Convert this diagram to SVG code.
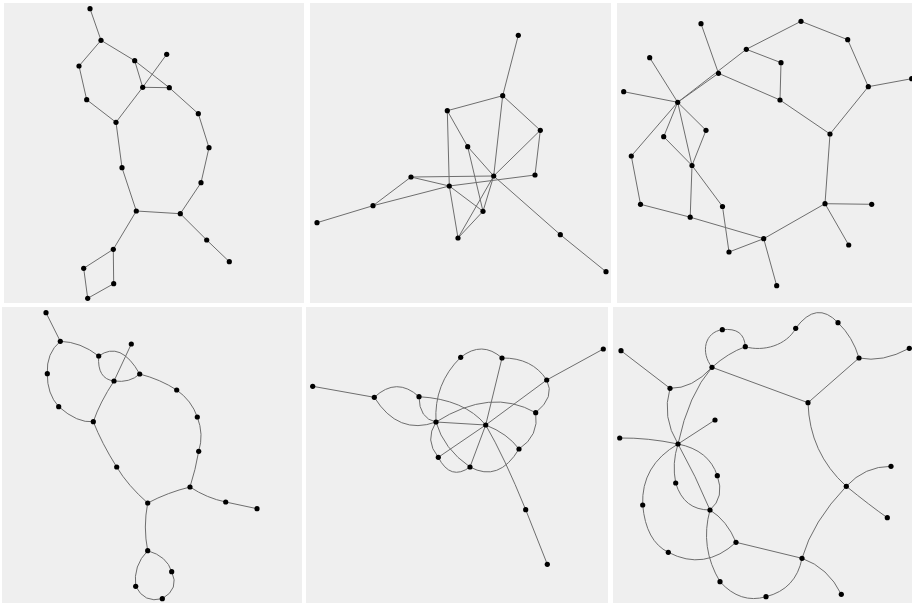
<svg xmlns="http://www.w3.org/2000/svg" width="912" height="603" viewBox="0 0 912 603">
<style>
.panel{fill:#efefef}
.e path{fill:none;stroke:#6e6e6e;stroke-width:1}
.n circle{fill:#000}
</style>
<rect x="0" y="0" width="912" height="603" fill="#fff"/>
<g id="panels">
<rect class="panel" x="4" y="3" width="300" height="300"/>
<rect class="panel" x="310" y="3" width="301" height="300"/>
<rect class="panel" x="617" y="3" width="295" height="300"/>
<rect class="panel" x="2" y="307" width="300" height="296"/>
<rect class="panel" x="306" y="307" width="302" height="296"/>
<rect class="panel" x="613" y="307" width="299" height="296"/>
</g>
<g id="connectors" class="e">
<!-- top-left -->
<path d="M90 8.7L101 40.3L79 66L86.7 99.7L116 122.3"/>
<path d="M101 40.3L134.7 60.7L169.3 87.7"/>
<path d="M134.7 60.7L142.7 87.3"/>
<path d="M166.7 54.3L142.7 87.3"/>
<path d="M142.7 87.3L169.3 87.7"/>
<path d="M116 122.3L142.7 87.3"/>
<path d="M169.3 87.7L198.3 113.7L209 147.7L201 182.7L180.3 213.7L136.3 211L122 167.7L116 122.3"/>
<path d="M180.3 213.7L206.7 240L229.3 261.7"/>
<path d="M136.3 211L113.3 249.3L83.7 268.3L87.7 298.3L113.7 283.7L113.3 249.3"/>
<!-- top-middle -->
<path d="M518.3 35.3L502.7 95.7L447.3 110.7"/>
<path d="M502.7 95.7L540.3 130.3"/>
<path d="M502.7 95.7L493.7 176"/>
<path d="M447.3 110.7L449.3 186"/>
<path d="M447.3 110.7L467.7 146.7L493.7 176L560.3 234.7L606 271.7"/>
<path d="M467.7 146.7L483 211.3"/>
<path d="M540.3 130.3L493.7 176"/>
<path d="M540.3 130.3L535 175"/>
<path d="M411 177L493.7 176"/>
<path d="M449.3 186L535 175"/>
<path d="M411 177L449.3 186"/>
<path d="M411 177L373 205.7L317 222.7"/>
<path d="M373 205.7L449.3 186"/>
<path d="M449.3 186L483 211.3"/>
<path d="M449.3 186L458 238"/>
<path d="M458 238L493.7 176"/>
<path d="M458 238L483 211.3"/>
<path d="M483 211.3L493.7 176"/>
<!-- top-right -->
<path d="M701 23.7L718.5 73.3"/>
<path d="M649.7 57.7L677.7 102.3"/>
<path d="M623.7 91.7L677.7 102.3"/>
<path d="M677.7 102.3L718.5 73.3"/>
<path d="M677.7 102.3L746.3 49.3"/>
<path d="M746.3 49.3L801 21.3L847.7 39.7L868.3 86.7L911.7 78.7"/>
<path d="M868.3 86.7L830 134"/>
<path d="M746.3 49.3L781 62.7L780 100"/>
<path d="M718.5 73.3L780 100L830 134L825 203.7"/>
<path d="M825 203.7L871.7 204.3"/>
<path d="M825 203.7L848.7 245"/>
<path d="M825 203.7L763.7 238.7L776.7 285.7"/>
<path d="M763.7 238.7L729 252L722.5 206.5L692 165.5"/>
<path d="M677.7 102.3L706 130.3L692 165.5"/>
<path d="M677.7 102.3L663.7 136.7L692 165.5"/>
<path d="M677.7 102.3L692 165.5"/>
<path d="M677.7 102.3L631.3 156L640.5 204.3L690.2 217.2L763.7 238.7"/>
<path d="M690.2 217.2L692 165.5"/>
<!-- bottom-left -->
<path d="M46 312.7L60.3 341.3"/>
<path d="M60.3 341.3Q46.2 353.1 47.3 373.7Q47 393.8 58.7 406.7Q77.4 423.2 93.3 421.7"/>
<path d="M60.3 341.3Q80.5 341.9 98.7 356"/>
<path d="M98.7 356Q120.8 340.4 139.7 374"/>
<path d="M98.7 356Q97 378.9 114 381Q129.8 383.1 139.7 374"/>
<path d="M131.3 344L114 381Q99.7 402.7 93.3 421.7"/>
<path d="M139.7 374Q160.4 379.4 176.7 390Q191.6 400.5 197.3 417Q204 434.4 198.7 451.3Q195.6 469.5 190 487"/>
<path d="M190 487Q167.8 492.4 147.7 503Q127.8 485.6 116.7 467Q101.6 443 93.3 421.7"/>
<path d="M190 487Q206.8 498.1 225.7 502L257 508.7"/>
<path d="M147.7 503Q143 527.2 147.7 550.7"/>
<path d="M147.7 550.7Q167 556.2 171.7 571.7Q179.7 588.8 162.3 598.7"/>
<path d="M147.7 550.7Q133 565.5 135.7 586.3Q144.3 603.5 162.3 598.7"/>
<!-- bottom-middle -->
<path d="M312.7 386.3L374.3 397.3"/>
<path d="M374.3 397.3Q396.7 376.4 419 396.7"/>
<path d="M374.3 397.3Q398.2 435.7 436 422"/>
<path d="M419 396.7Q419.2 418.7 436 422"/>
<path d="M419 396.7Q464.3 399.2 485.7 425"/>
<path d="M436 422Q490.8 387.3 535.7 412.7"/>
<path d="M436 422L485.7 425"/>
<path d="M436 422Q433.7 383.7 460.7 357.3"/>
<path d="M460.7 357.3Q482 340.4 502 358"/>
<path d="M502 358L485.7 425"/>
<path d="M502 358Q532.3 357.7 546.7 380"/>
<path d="M546.7 380L603.3 349"/>
<path d="M546.7 380L485.7 425"/>
<path d="M485.7 425L438.3 457.3"/>
<path d="M546.7 380Q555.4 397 535.7 412.7"/>
<path d="M535.7 412.7Q539.3 435.8 519 449"/>
<path d="M485.7 425Q507.7 433.6 519 449"/>
<path d="M519 449Q498.9 482.6 470 467"/>
<path d="M485.7 425L470 467"/>
<path d="M436 422Q443.6 448.9 470 467"/>
<path d="M436 422Q424.2 440.3 438.3 457.3"/>
<path d="M438.3 457.3Q450.5 481.2 470 467"/>
<path d="M485.7 425Q504.2 456.7 525.7 509.7L547.3 564.3"/>
<!-- bottom-right -->
<path d="M621 350.7L670 388.3"/>
<path d="M670 388.3Q692.4 388.8 712 367.3"/>
<path d="M670 388.3Q661.5 417.2 678 444"/>
<path d="M712 367.3C700 352 705 332 722.3 329.7"/>
<path d="M722.3 329.7Q744.2 327.2 745.3 346.7"/>
<path d="M745.3 346.7Q728 353 712 367.3Q688.5 394.3 678 444"/>
<path d="M712 367.3L808 402.7"/>
<path d="M678 444L715 420"/>
<path d="M619.7 438Q647.7 437.6 678 444"/>
<path d="M745.3 346.7C763.3 352 786.7 345.3 795.7 328.3"/>
<path d="M795.7 328.3Q816.5 299.9 838 322.7"/>
<path d="M838 322.7Q852.9 337 859 358"/>
<path d="M859 358Q882.5 362.8 909.3 348.3"/>
<path d="M859 358L808 402.7"/>
<path d="M808 402.7Q809.5 452.9 846.3 486.3"/>
<path d="M846.3 486.3Q864.7 466.3 891 466.3"/>
<path d="M846.3 486.3Q869.8 505.4 887.3 517.7"/>
<path d="M846.3 486.3Q812.5 521.7 802 558.3"/>
<path d="M802 558.3Q828.3 567.7 841.3 594.3"/>
<path d="M736 542.3L802 558.3"/>
<path d="M802 558.3Q796 589.1 766 596.7"/>
<path d="M766 596.7Q740.4 604.2 720 581.7"/>
<path d="M720 581.7Q699.6 547.5 710 510"/>
<path d="M678 444Q641 465.5 642.7 505"/>
<path d="M642.7 505Q645.9 541.3 668.3 552.3"/>
<path d="M668.3 552.3Q704.5 571.3 736 542.3"/>
<path d="M678 444Q671.8 463.1 675.7 483"/>
<path d="M675.7 483Q683.8 510.1 710 510"/>
<path d="M678 444Q696 476.4 710 510"/>
<path d="M678 444Q709 450.2 717.3 475.7"/>
<path d="M717.3 475.7Q725 497.2 710 510"/>
<path d="M710 510Q727 520.5 736 542.3"/>
</g>
<g id="nodes" class="n">
<g id="tl-a"><circle cx="90" cy="8.7" r="2.6"/></g>
<g id="tl-b"><circle cx="101" cy="40.3" r="2.6"/></g>
<g id="tl-c"><circle cx="79" cy="66" r="2.6"/></g>
<g id="tl-d"><circle cx="86.7" cy="99.7" r="2.6"/></g>
<g id="tl-e"><circle cx="116" cy="122.3" r="2.6"/></g>
<g id="tl-f"><circle cx="134.7" cy="60.7" r="2.6"/></g>
<g id="tl-g"><circle cx="166.7" cy="54.3" r="2.6"/></g>
<g id="tl-h"><circle cx="142.7" cy="87.3" r="2.6"/></g>
<g id="tl-i"><circle cx="169.3" cy="87.7" r="2.6"/></g>
<g id="tl-j"><circle cx="198.3" cy="113.7" r="2.6"/></g>
<g id="tl-k"><circle cx="209" cy="147.7" r="2.6"/></g>
<g id="tl-l"><circle cx="201" cy="182.7" r="2.6"/></g>
<g id="tl-m"><circle cx="180.3" cy="213.7" r="2.6"/></g>
<g id="tl-n"><circle cx="136.3" cy="211" r="2.6"/></g>
<g id="tl-o"><circle cx="122" cy="167.7" r="2.6"/></g>
<g id="tl-p"><circle cx="206.7" cy="240" r="2.6"/></g>
<g id="tl-q"><circle cx="229.3" cy="261.7" r="2.6"/></g>
<g id="tl-r"><circle cx="113.3" cy="249.3" r="2.6"/></g>
<g id="tl-s"><circle cx="83.7" cy="268.3" r="2.6"/></g>
<g id="tl-t"><circle cx="113.7" cy="283.7" r="2.6"/></g>
<g id="tl-u"><circle cx="87.7" cy="298.3" r="2.6"/></g>

<g id="tm-a"><circle cx="518.3" cy="35.3" r="2.6"/></g>
<g id="tm-b"><circle cx="502.7" cy="95.7" r="2.6"/></g>
<g id="tm-c"><circle cx="447.3" cy="110.7" r="2.6"/></g>
<g id="tm-d"><circle cx="540.3" cy="130.3" r="2.6"/></g>
<g id="tm-e"><circle cx="467.7" cy="146.7" r="2.6"/></g>
<g id="tm-f"><circle cx="493.7" cy="176" r="2.6"/></g>
<g id="tm-g"><circle cx="535" cy="175" r="2.6"/></g>
<g id="tm-h"><circle cx="411" cy="177" r="2.6"/></g>
<g id="tm-i"><circle cx="449.3" cy="186" r="2.6"/></g>
<g id="tm-j"><circle cx="373" cy="205.7" r="2.6"/></g>
<g id="tm-k"><circle cx="317" cy="222.7" r="2.6"/></g>
<g id="tm-l"><circle cx="483" cy="211.3" r="2.6"/></g>
<g id="tm-m"><circle cx="458" cy="238" r="2.6"/></g>
<g id="tm-n"><circle cx="560.3" cy="234.7" r="2.6"/></g>
<g id="tm-o"><circle cx="606" cy="271.7" r="2.6"/></g>

<g id="tr-1"><circle cx="701" cy="23.7" r="2.6"/></g>
<g id="tr-2"><circle cx="649.7" cy="57.7" r="2.6"/></g>
<g id="tr-3"><circle cx="623.7" cy="91.7" r="2.6"/></g>
<g id="tr-hub"><circle cx="677.7" cy="102.3" r="2.6"/></g>
<g id="tr-4"><circle cx="718.5" cy="73.3" r="2.6"/></g>
<g id="tr-5"><circle cx="746.3" cy="49.3" r="2.6"/></g>
<g id="tr-6"><circle cx="781" cy="62.7" r="2.6"/></g>
<g id="tr-7"><circle cx="780" cy="100" r="2.6"/></g>
<g id="tr-8"><circle cx="801" cy="21.3" r="2.6"/></g>
<g id="tr-9"><circle cx="847.7" cy="39.7" r="2.6"/></g>
<g id="tr-10"><circle cx="868.3" cy="86.7" r="2.6"/></g>
<g id="tr-11"><circle cx="911.7" cy="78.7" r="2.6"/></g>
<g id="tr-12"><circle cx="830" cy="134" r="2.6"/></g>
<g id="tr-13"><circle cx="825" cy="203.7" r="2.6"/></g>
<g id="tr-14"><circle cx="871.7" cy="204.3" r="2.6"/></g>
<g id="tr-15"><circle cx="848.7" cy="245" r="2.6"/></g>
<g id="tr-16"><circle cx="763.7" cy="238.7" r="2.6"/></g>
<g id="tr-17"><circle cx="776.7" cy="285.7" r="2.6"/></g>
<g id="tr-18"><circle cx="729" cy="252" r="2.6"/></g>
<g id="tr-19"><circle cx="722.5" cy="206.5" r="2.6"/></g>
<g id="tr-20"><circle cx="690.2" cy="217.2" r="2.6"/></g>
<g id="tr-21"><circle cx="640.5" cy="204.3" r="2.6"/></g>
<g id="tr-22"><circle cx="631.3" cy="156" r="2.6"/></g>
<g id="tr-23"><circle cx="663.7" cy="136.7" r="2.6"/></g>
<g id="tr-24"><circle cx="706" cy="130.3" r="2.6"/></g>
<g id="tr-25"><circle cx="692" cy="165.5" r="2.6"/></g>

<g id="bl-1"><circle cx="46" cy="312.7" r="2.6"/></g>
<g id="bl-2"><circle cx="60.3" cy="341.3" r="2.6"/></g>
<g id="bl-3"><circle cx="47.3" cy="373.7" r="2.6"/></g>
<g id="bl-4"><circle cx="58.7" cy="406.7" r="2.6"/></g>
<g id="bl-5"><circle cx="93.3" cy="421.7" r="2.6"/></g>
<g id="bl-6"><circle cx="98.7" cy="356" r="2.6"/></g>
<g id="bl-7"><circle cx="131.3" cy="344" r="2.6"/></g>
<g id="bl-8"><circle cx="114" cy="381" r="2.6"/></g>
<g id="bl-9"><circle cx="139.7" cy="374" r="2.6"/></g>
<g id="bl-10"><circle cx="176.7" cy="390" r="2.6"/></g>
<g id="bl-11"><circle cx="197.3" cy="417" r="2.6"/></g>
<g id="bl-12"><circle cx="198.7" cy="451.3" r="2.6"/></g>
<g id="bl-13"><circle cx="190" cy="487" r="2.6"/></g>
<g id="bl-14"><circle cx="225.7" cy="502" r="2.6"/></g>
<g id="bl-15"><circle cx="257" cy="508.7" r="2.6"/></g>
<g id="bl-16"><circle cx="147.7" cy="503" r="2.6"/></g>
<g id="bl-17"><circle cx="116.7" cy="467" r="2.6"/></g>
<g id="bl-18"><circle cx="147.7" cy="550.7" r="2.6"/></g>
<g id="bl-19"><circle cx="171.7" cy="571.7" r="2.6"/></g>
<g id="bl-20"><circle cx="135.7" cy="586.3" r="2.6"/></g>
<g id="bl-21"><circle cx="162.3" cy="598.7" r="2.6"/></g>

<g id="bm-1"><circle cx="312.7" cy="386.3" r="2.6"/></g>
<g id="bm-2"><circle cx="374.3" cy="397.3" r="2.6"/></g>
<g id="bm-3"><circle cx="419" cy="396.7" r="2.6"/></g>
<g id="bm-4"><circle cx="436" cy="422" r="2.6"/></g>
<g id="bm-5"><circle cx="485.7" cy="425" r="2.6"/></g>
<g id="bm-6"><circle cx="460.7" cy="357.3" r="2.6"/></g>
<g id="bm-7"><circle cx="502" cy="358" r="2.6"/></g>
<g id="bm-8"><circle cx="546.7" cy="380" r="2.6"/></g>
<g id="bm-9"><circle cx="603.3" cy="349" r="2.6"/></g>
<g id="bm-10"><circle cx="535.7" cy="412.7" r="2.6"/></g>
<g id="bm-11"><circle cx="519" cy="449" r="2.6"/></g>
<g id="bm-12"><circle cx="470" cy="467" r="2.6"/></g>
<g id="bm-13"><circle cx="438.3" cy="457.3" r="2.6"/></g>
<g id="bm-14"><circle cx="525.7" cy="509.7" r="2.6"/></g>
<g id="bm-15"><circle cx="547.3" cy="564.3" r="2.6"/></g>

<g id="br-1"><circle cx="621" cy="350.7" r="2.6"/></g>
<g id="br-2"><circle cx="670" cy="388.3" r="2.6"/></g>
<g id="br-3"><circle cx="712" cy="367.3" r="2.6"/></g>
<g id="br-4"><circle cx="722.3" cy="329.7" r="2.6"/></g>
<g id="br-5"><circle cx="745.3" cy="346.7" r="2.6"/></g>
<g id="br-6"><circle cx="795.7" cy="328.3" r="2.6"/></g>
<g id="br-7"><circle cx="838" cy="322.7" r="2.6"/></g>
<g id="br-8"><circle cx="859" cy="358" r="2.6"/></g>
<g id="br-9"><circle cx="909.3" cy="348.3" r="2.6"/></g>
<g id="br-10"><circle cx="808" cy="402.7" r="2.6"/></g>
<g id="br-11"><circle cx="715" cy="420" r="2.6"/></g>
<g id="br-12"><circle cx="619.7" cy="438" r="2.6"/></g>
<g id="br-13"><circle cx="678" cy="444" r="2.6"/></g>
<g id="br-14"><circle cx="717.3" cy="475.7" r="2.6"/></g>
<g id="br-15"><circle cx="675.7" cy="483" r="2.6"/></g>
<g id="br-16"><circle cx="642.7" cy="505" r="2.6"/></g>
<g id="br-17"><circle cx="710" cy="510" r="2.6"/></g>
<g id="br-18"><circle cx="736" cy="542.3" r="2.6"/></g>
<g id="br-19"><circle cx="668.3" cy="552.3" r="2.6"/></g>
<g id="br-20"><circle cx="846.3" cy="486.3" r="2.6"/></g>
<g id="br-21"><circle cx="891" cy="466.3" r="2.6"/></g>
<g id="br-22"><circle cx="887.3" cy="517.7" r="2.6"/></g>
<g id="br-23"><circle cx="802" cy="558.3" r="2.6"/></g>
<g id="br-24"><circle cx="841.3" cy="594.3" r="2.6"/></g>
<g id="br-25"><circle cx="766" cy="596.7" r="2.6"/></g>
<g id="br-26"><circle cx="720" cy="581.7" r="2.6"/></g>
</g>
</svg>
